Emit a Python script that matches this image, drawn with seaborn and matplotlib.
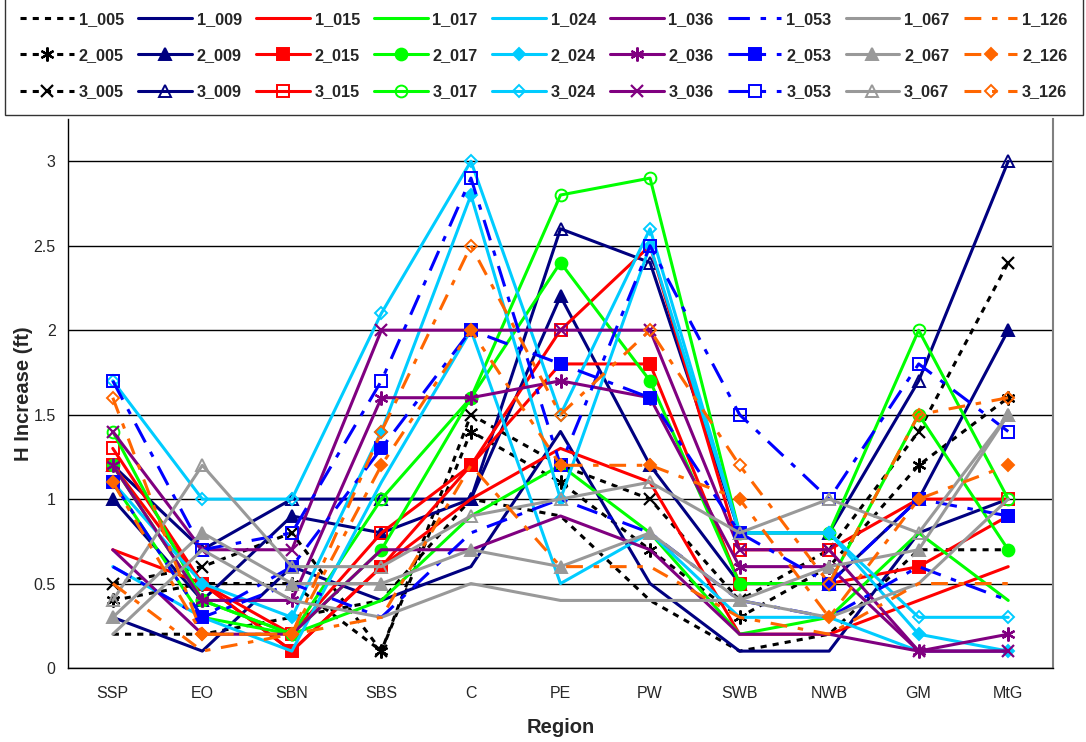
import matplotlib
matplotlib.use("Agg")
import matplotlib.pyplot as plt
import seaborn as sns
import numpy as np

sns.set_style("white")
plt.rcParams["font.family"] = ["Liberation Sans", "DejaVu Sans"]

regions = ["SSP", "EO", "SBN", "SBS", "C", "PE", "PW", "SWB", "NWB", "GM", "MtG"]

# H increase (ft) per region for each run
h_1_005 = [0.2, 0.2, 0.3, 0.4, 1.0, 0.9, 0.4, 0.1, 0.2, 0.7, 0.7]
h_2_005 = [0.4, 0.5, 0.5, 0.1, 1.4, 1.1, 0.7, 0.3, 0.6, 1.2, 1.6]
h_3_005 = [0.5, 0.6, 0.8, 0.1, 1.5, 1.2, 1.0, 0.4, 0.7, 1.4, 2.4]
h_1_009 = [0.3, 0.1, 0.6, 0.4, 0.6, 1.4, 0.5, 0.1, 0.1, 0.8, 1.0]
h_2_009 = [1.0, 0.4, 0.9, 0.8, 1.0, 2.2, 1.2, 0.5, 0.5, 1.0, 2.0]
h_3_009 = [1.2, 0.7, 1.0, 1.0, 1.0, 2.6, 2.4, 0.8, 0.8, 1.7, 3.0]
h_1_015 = [0.7, 0.5, 0.1, 0.6, 1.0, 1.3, 1.1, 0.2, 0.2, 0.4, 0.6]
h_2_015 = [1.2, 0.5, 0.1, 0.6, 1.2, 1.8, 1.8, 0.5, 0.5, 0.6, 0.9]
h_3_015 = [1.3, 0.5, 0.2, 0.8, 1.2, 2.0, 2.5, 0.7, 0.7, 1.0, 1.0]
h_1_017 = [1.1, 0.3, 0.2, 0.4, 0.9, 1.2, 0.8, 0.2, 0.3, 0.8, 0.4]
h_2_017 = [1.2, 0.4, 0.2, 0.7, 1.6, 2.4, 1.7, 0.5, 0.5, 1.5, 0.7]
h_3_017 = [1.4, 0.4, 0.2, 1.0, 1.6, 2.8, 2.9, 0.8, 0.8, 2.0, 1.0]
h_1_024 = [0.6, 0.3, 0.1, 1.1, 2.0, 0.5, 0.8, 0.3, 0.3, 0.1, 0.1]
h_2_024 = [1.1, 0.5, 0.3, 1.4, 2.8, 1.0, 2.5, 0.8, 0.8, 0.2, 0.1]
h_3_024 = [1.7, 1.0, 1.0, 2.1, 3.0, 1.5, 2.6, 0.8, 0.8, 0.3, 0.3]
h_1_036 = [0.7, 0.2, 0.2, 0.7, 0.7, 0.9, 0.7, 0.2, 0.2, 0.1, 0.1]
h_2_036 = [1.2, 0.4, 0.4, 1.6, 1.6, 1.7, 1.6, 0.6, 0.6, 0.1, 0.2]
h_3_036 = [1.4, 0.7, 0.7, 2.0, 2.0, 2.0, 2.0, 0.7, 0.7, 0.1, 0.1]
h_1_053 = [0.6, 0.3, 0.5, 0.3, 0.8, 1.0, 0.8, 0.4, 0.3, 0.6, 0.4]
h_2_053 = [1.1, 0.3, 0.6, 1.3, 2.0, 1.8, 1.6, 0.8, 0.5, 1.0, 0.9]
h_3_053 = [1.7, 0.7, 0.8, 1.7, 2.9, 1.2, 2.5, 1.5, 1.0, 1.8, 1.4]
h_1_067 = [0.2, 0.7, 0.4, 0.3, 0.5, 0.4, 0.4, 0.4, 0.3, 0.5, 1.0]
h_2_067 = [0.3, 0.8, 0.5, 0.5, 0.7, 0.6, 0.8, 0.4, 0.6, 0.7, 1.5]
h_3_067 = [0.4, 1.2, 0.6, 0.6, 0.9, 1.0, 1.1, 0.8, 1.0, 0.8, 1.5]
h_1_126 = [0.5, 0.1, 0.2, 0.3, 1.2, 0.6, 0.6, 0.3, 0.2, 0.5, 0.5]
h_2_126 = [1.1, 0.2, 0.2, 1.2, 2.0, 1.2, 1.2, 1.0, 0.3, 1.0, 1.2]
h_3_126 = [1.6, 0.2, 0.2, 1.4, 2.5, 1.5, 2.0, 1.2, 0.5, 1.5, 1.6]

groups = ["005", "009", "015", "017", "024", "036", "053", "067", "126"]
runs = ["1", "2", "3"]
values = {
    "1_005": h_1_005, "2_005": h_2_005, "3_005": h_3_005,
    "1_009": h_1_009, "2_009": h_2_009, "3_009": h_3_009,
    "1_015": h_1_015, "2_015": h_2_015, "3_015": h_3_015,
    "1_017": h_1_017, "2_017": h_2_017, "3_017": h_3_017,
    "1_024": h_1_024, "2_024": h_2_024, "3_024": h_3_024,
    "1_036": h_1_036, "2_036": h_2_036, "3_036": h_3_036,
    "1_053": h_1_053, "2_053": h_2_053, "3_053": h_3_053,
    "1_067": h_1_067, "2_067": h_2_067, "3_067": h_3_067,
    "1_126": h_1_126, "2_126": h_2_126, "3_126": h_3_126,
}

colors = {"005": "#000000", "009": "#000080", "015": "#FF0000", "017": "#00FF00",
          "024": "#00CCFF", "036": "#800080", "053": "#0000FF", "067": "#999999",
          "126": "#FF6600"}
dashes = {"005": (0, (2, 2)), "053": (0, (7, 3.5, 1.8, 3.5)), "126": (0, (5.5, 3.5, 1.8, 3.5))}
asterisk = (6, 2, 0)
shapes = {"005": (asterisk, "x"), "009": ("^", "^"), "015": ("s", "s"), "017": ("o", "o"),
          "024": ("D", "D"), "036": (asterisk, "x"), "053": ("s", "s"), "067": ("^", "^"),
          "126": ("D", "D")}
msize = {"^": 8.5, "s": 8, "o": 8.5, "D": 6.5, "x": 9, asterisk: 10}

fig = plt.figure(figsize=(10.86, 7.42), dpi=100)
W, H = 1086, 742
ax = fig.add_axes([68 / W, 1 - 668 / H, (1053 - 68) / W, (668 - 119) / H])

xpos = np.arange(len(regions))
handles, labels = [], []
for g in groups:
    for r in runs:
        name = f"{r}_{g}"
        col = colors[g]
        kws = dict(color=col, linewidth=2.2, linestyle=dashes.get(g, "-"))
        if r == "1":
            kws.update(marker="None")
        else:
            m = shapes[g][0] if r == "2" else shapes[g][1]
            kws.update(marker=m, markersize=msize[m], markeredgecolor=col,
                       markeredgewidth=1.4 if m not in ("x", asterisk) else 1.6)
            kws.update(markerfacecolor=col if r == "2" else "none")
        sns.lineplot(x=xpos, y=values[name], ax=ax, sort=False, label=name,
                     legend=False, **kws)
        handles.append(ax.lines[-1])
        labels.append(name)

ax.set_xlim(-0.5, len(regions) - 0.5)
ax.set_ylim(0, 3.25)
ax.set_yticks([0, 0.5, 1, 1.5, 2, 2.5, 3])
ax.set_yticklabels(["0", "0.5", "1", "1.5", "2", "2.5", "3"])
ax.set_xticks(xpos)
ax.set_xticklabels(regions)
ax.set_xticks(np.arange(-0.5, len(regions) + 0.5, 1), minor=True)
ax.tick_params(axis="x", which="major", length=0, pad=13, labelsize=11.5)
ax.tick_params(axis="x", which="minor", length=5, width=1, direction="out", color="black")
ax.tick_params(axis="y", length=5, width=1, direction="out", color="black", labelsize=11.5, pad=4)
ax.grid(axis="y", color="black", linewidth=1)
ax.set_axisbelow(True)
for side in ("left", "bottom"):
    ax.spines[side].set_color("black")
    ax.spines[side].set_linewidth(1)
ax.spines["top"].set_visible(False)
ax.spines["right"].set_color("#808080")
ax.spines["right"].set_linewidth(1.5)

ax.set_xlabel("Region", fontsize=14.5, fontweight="bold", labelpad=12)
ax.set_ylabel("H Increase (ft)", fontsize=14.5, fontweight="bold", labelpad=0)

leg = fig.legend(handles, labels, loc="upper left", ncol=9, mode="expand",
                 bbox_to_anchor=(5 / W, 1 - 4 / H, 1078 / W, 0.01),
                 frameon=True, fancybox=False, edgecolor="black",
                 prop={"weight": "bold", "size": 11.7},
                 handlelength=3.3, handletextpad=0.3, columnspacing=0.4,
                 labelspacing=1.3, borderpad=0.95, borderaxespad=0)
leg.get_frame().set_linewidth(1)

fig.savefig("out.png", dpi=100)
